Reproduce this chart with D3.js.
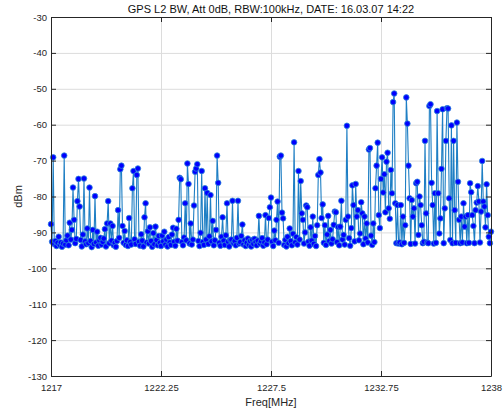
<!DOCTYPE html>
<html>
<head>
<meta charset="utf-8">
<script src="https://cdn.jsdelivr.net/npm/d3@7"></script>
<style>
body { margin: 0; background: #fff; }
text { font-family: "Liberation Sans", Arial, sans-serif; }
</style>
</head>
<body>
<svg id="chart" width="503" height="414"></svg>
<script>
// sweep settings (401 points across the span)
let fStart = 1217
let fStop = 1238

// measured level per sweep point, dBm
let power = [
    -87.7, -92.6, -69.1, -93.2, -92.4, -93.8, -92.9, -91.2, -93.5, -92.8,
    -94.0, -93.1, -68.6, -93.4, -92.2, -90.9, -93.6, -87.3, -92.0, -89.3,
    -77.5, -86.5, -93.0, -91.8, -81.3, -75.1, -82.8, -92.1, -93.9, -90.6,
    -75.0, -92.5, -93.3, -88.9, -93.0, -77.5, -92.4, -94.1, -89.3, -93.2,
    -79.9, -92.8, -89.8, -93.7, -92.2, -91.5, -93.4, -92.6, -91.7, -89.1,
    -93.9, -87.5, -81.3, -93.0, -87.5, -92.3, -88.2, -93.6, -92.9, -94.0,
    -92.4, -83.8, -91.5, -72.4, -71.4, -88.2, -92.9, -89.6, -93.5, -92.2,
    -93.8, -86.0, -92.7, -93.4, -77.7, -72.9, -91.9, -93.2, -74.0, -72.2,
    -92.6, -93.7, -90.5, -92.3, -93.9, -85.8, -81.9, -92.8, -89.7, -93.1,
    -88.6, -92.4, -94.0, -90.2, -93.3, -88.4, -92.1, -93.6, -91.0, -92.9,
    -93.8, -90.9, -92.5, -89.8, -93.4, -92.0, -93.9, -91.3, -92.8, -93.5,
    -90.6, -88.7, -92.6, -93.7, -89.0, -92.3, -86.5, -74.8, -75.2, -92.7,
    -93.6, -91.4, -81.9, -92.2, -70.8, -76.5, -93.1, -87.5, -93.4, -92.0,
    -82.5, -73.1, -72.2, -71.0, -92.4, -93.8, -90.1, -72.9, -92.7, -93.5,
    -77.7, -92.0, -79.0, -93.2, -91.1, -79.6, -92.5, -86.8, -93.6, -92.2,
    -89.3, -68.6, -76.2, -92.9, -93.7, -91.2, -85.8, -92.3, -93.5, -90.8,
    -81.9, -92.6, -93.9, -92.1, -92.0, -81.2, -93.0, -92.4, -93.6, -91.5,
    -81.2, -93.1, -92.7, -91.0, -87.8, -93.4, -92.2, -93.8, -92.9, -91.7,
    -93.5, -92.4, -93.9, -92.1, -93.2, -91.8, -92.7, -93.6, -92.3, -85.4,
    -93.1, -92.5, -91.6, -93.7, -92.8, -85.2, -93.3, -92.0, -86.0, -83.0,
    -80.3, -92.6, -93.8, -89.5, -92.2, -86.5, -81.4, -92.9, -68.9, -68.6,
    -84.5, -86.1, -93.5, -92.1, -93.9, -91.2, -93.0, -88.9, -92.4, -93.6,
    -90.4, -64.9, -92.8, -91.3, -93.4, -72.9, -92.0, -75.7, -84.7, -86.5,
    -93.1, -90.0, -82.5, -83.0, -92.6, -93.7, -88.6, -92.3, -85.6, -93.2,
    -91.0, -93.8, -88.0, -74.0, -69.6, -73.3, -86.0, -82.2, -92.9, -88.0,
    -93.5, -90.6, -85.4, -92.4, -89.3, -93.1, -91.9, -87.9, -84.2, -84.4,
    -92.7, -88.5, -93.6, -88.4, -81.2, -92.0, -90.7, -93.4, -86.5, -60.3,
    -85.6, -91.6, -93.7, -88.8, -76.9, -82.4, -92.5, -76.5, -85.6, -83.8,
    -92.2, -90.3, -81.6, -84.7, -93.3, -85.6, -91.7, -87.5, -92.8, -66.9,
    -66.5, -90.9, -93.5, -87.5, -92.7, -77.7, -71.4, -65.0, -85.2, -88.8,
    -75.1, -69.1, -78.9, -73.8, -84.4, -70.3, -67.8, -83.3, -86.2, -72.6,
    -79.1, -53.7, -51.3, -81.9, -93.0, -82.4, -93.1, -92.8, -82.4, -93.3,
    -85.6, -92.9, -88.0, -52.4, -59.7, -71.4, -80.5, -93.2, -81.0, -85.6,
    -83.3, -93.1, -76.3, -75.9, -90.7, -80.0, -82.4, -88.0, -93.0, -92.6,
    -64.5, -84.7, -92.8, -93.0, -54.8, -54.3, -76.2, -82.4, -93.1, -79.1,
    -92.9, -56.2, -79.1, -90.3, -86.1, -72.3, -55.7, -93.0, -83.3, -64.5,
    -55.4, -55.5, -80.5, -92.1, -60.2, -93.0, -64.5, -83.8, -92.9, -59.4,
    -75.9, -86.5, -93.0, -85.6, -92.8, -81.9, -88.4, -85.6, -93.0, -85.2,
    -92.9, -76.3, -78.8, -85.2, -88.2, -93.0, -83.8, -81.7, -77.1, -81.4,
    -92.8, -84.2, -70.1, -81.4, -82.8, -88.6, -76.6, -85.2, -91.2, -93.0,
    -89.8
]

let xTicks = [1217, 1222.25, 1227.5, 1232.75, 1238]
let yTicks = [-130, -120, -110, -100, -90, -80, -70, -60, -50, -40, -30]
let chartTitle = "GPS L2 BW, Att 0dB, RBW:100kHz, DATE: 16.03.07 14:22"
let xTitle = "Freq[MHz]"
let yTitle = "dBm"

let width = 503
let height = 414
let margin = { top: 17, right: 12, bottom: 38, left: 51 }
let plotW = width - margin.left - margin.right
let plotH = height - margin.top - margin.bottom

let svg = d3.select("#chart")
let g = svg.append("g")
    .attr("transform", "translate(" + margin.left + "," + margin.top + ")")

let step = (fStop - fStart) / (power.length - 1)
let data = power.map(function (v, i) { return { f: fStart + i * step, v: v } })

let xScale = d3.scaleLinear().domain([fStart, fStop]).range([0, plotW])
let yScale = d3.scaleLinear().domain([-130, -30]).range([plotH, 0])

// 网格
g.append("g")
    .attr("transform", "translate(0," + plotH + ")")
    .call(d3.axisBottom(xScale).tickValues(xTicks).tickSize(-plotH).tickFormat(""))
    .call(function (s) { s.select(".domain").remove() })
    .selectAll("line").attr("stroke", "#dcdcdc")
g.append("g")
    .call(d3.axisLeft(yScale).tickValues(yTicks).tickSize(-plotW).tickFormat(""))
    .call(function (s) { s.select(".domain").remove() })
    .selectAll("line").attr("stroke", "#dcdcdc")

// 数据线 + 标记
g.append("path")
    .datum(data)
    .attr("fill", "none")
    .attr("stroke", "#1f7fc4")
    .attr("stroke-width", 1.1)
    .attr("d", d3.line().x(function (d) { return xScale(d.f) }).y(function (d) { return yScale(d.v) }))

g.selectAll("circle")
    .data(data)
    .enter()
    .append("circle")
    .attr("cx", function (d) { return xScale(d.f) })
    .attr("cy", function (d) { return yScale(d.v) })
    .attr("r", 2.8)
    .attr("fill", "#0000ff")
    .attr("stroke", "#2f86d8")
    .attr("stroke-width", 0.8)

// 坐标轴 (ticks inward, box on)
function styleAxis(s) {
    s.select(".domain").attr("stroke", "#262626")
    s.selectAll(".tick line").attr("stroke", "#262626")
    s.selectAll("text").attr("fill", "#262626").attr("font-size", "9.5px")
        .attr("font-family", "'Liberation Sans', Arial, sans-serif")
}

g.append("g")
    .attr("transform", "translate(0," + plotH + ")")
    .call(d3.axisBottom(xScale).tickValues(xTicks).tickSizeInner(-5).tickSizeOuter(0)
        .tickPadding(8).tickFormat(function (d) { return String(d) }))
    .call(styleAxis)
g.append("g")
    .call(d3.axisTop(xScale).tickValues(xTicks).tickSizeInner(-5).tickSizeOuter(0).tickFormat(""))
    .call(styleAxis)
g.append("g")
    .call(d3.axisLeft(yScale).tickValues(yTicks).tickSizeInner(-5).tickSizeOuter(0)
        .tickPadding(4).tickFormat(function (d) { return String(d) }))
    .call(styleAxis)
g.append("g")
    .attr("transform", "translate(" + plotW + ",0)")
    .call(d3.axisRight(yScale).tickValues(yTicks).tickSizeInner(-5).tickSizeOuter(0).tickFormat(""))
    .call(styleAxis)

// 标题
svg.append("text")
    .attr("x", margin.left + plotW / 2)
    .attr("y", 13)
    .attr("text-anchor", "middle")
    .attr("font-size", "11px")
    .attr("fill", "#111")
    .text(chartTitle)

svg.append("text")
    .attr("x", margin.left + plotW / 2)
    .attr("y", 405.5)
    .attr("text-anchor", "middle")
    .attr("font-size", "11px")
    .attr("fill", "#262626")
    .text(xTitle)

svg.append("text")
    .attr("transform", "translate(22," + (margin.top + plotH / 2) + ") rotate(-90)")
    .attr("text-anchor", "middle")
    .attr("font-size", "11px")
    .attr("fill", "#262626")
    .text(yTitle)
</script>
</body>
</html>
